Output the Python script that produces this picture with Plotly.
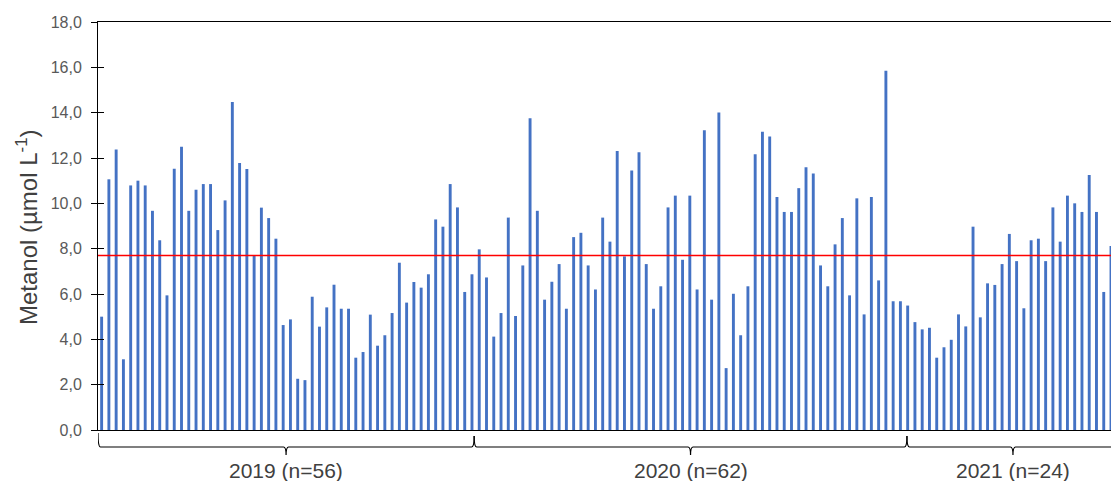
import plotly.graph_objects as go

# ---- data ----
methanol = [
    5.0, 11.06, 12.38, 3.12, 10.79, 11.0, 10.79, 9.67, 8.37, 5.94,
    11.53, 12.5, 9.67, 10.6, 10.85, 10.85, 8.82, 10.13, 14.47, 11.78,
    11.51, 7.68, 9.81, 9.35, 8.44, 4.63, 4.88, 2.26, 2.2, 5.88,
    4.56, 5.41, 6.41, 5.35, 5.35, 3.19, 3.44, 5.09, 3.72, 4.18,
    5.16, 7.38, 5.62, 6.53, 6.28, 6.87, 9.29, 8.97, 10.85, 9.82,
    6.09, 6.87, 7.97, 6.73, 4.12, 5.16, 9.37, 5.03, 7.26, 13.75,
    9.67, 5.75, 6.54, 7.32, 5.35, 8.51, 8.70, 7.26, 6.2, 9.37,
    8.31, 12.31, 7.66, 11.45, 12.25, 7.32, 5.35, 6.34, 9.82, 10.34,
    7.51, 10.34, 6.2, 13.22, 5.75, 14.01, 2.73, 6.01, 4.18, 6.34,
    12.17, 13.16, 12.95, 10.28, 9.62, 9.62, 10.67, 11.59, 11.32, 7.26,
    6.34, 8.19, 9.35, 5.94, 10.22, 5.1, 10.28, 6.6, 15.85, 5.68,
    5.68, 5.49, 4.76, 4.44, 4.51, 3.19, 3.65, 3.98, 5.1, 4.57,
    8.97, 4.97, 6.47, 6.4, 7.32, 8.65, 7.45, 5.37, 8.37, 8.44,
    7.45, 9.82, 8.31, 10.34, 10.0, 9.62, 11.25, 9.62, 6.09, 8.12,
]
samples = list(range(len(methanol)))
mean_value = 7.7
group_labels = ["2019 (n=56)", "2020 (n=62)", "2021 (n=24)"]

y_ticks = [0, 2, 4, 6, 8, 10, 12, 14, 16, 18]

# ---- layout constants (positions, not data) ----
brace_edges = [-0.5, 51.3, 110.9, 140.1]   # in bar-index units
BAR_COLOR = "#4472C4"
TEXT_COLOR = "#404040"
TICK_COLOR = "#595959"
FONT = "Liberation Sans, Arial, sans-serif"

fig = go.Figure()
fig.add_trace(go.Bar(x=samples, y=methanol, marker=dict(color=BAR_COLOR, line=dict(width=0)),
                     showlegend=False, hoverinfo="y"))
# invisible trace so the overlay axis (for crossing ticks) is drawn
fig.add_trace(go.Scatter(x=samples, y=methanol, mode="none", yaxis="y2",
                         showlegend=False, hoverinfo="skip"))

fig.add_hline(y=mean_value, line=dict(color="#FF0000", width=1.5), layer="above")

# braces below the axis
plot_h = 481 - 22 - 51
def py(px_below):
    return -px_below / plot_h

y_h = py(17)
shapes = []
for i in range(len(group_labels)):
    xa, xb = brace_edges[i], brace_edges[i + 1]
    m = (xa + xb) / 2
    ya = py(3) if i == 0 else py(6)
    yb = py(6)
    d = 0.35
    path = (f"M {xa},{ya} Q {xa},{y_h} {xa + d},{y_h} "
            f"L {m - d},{y_h} Q {m},{y_h} {m},{py(25)} "
            f"Q {m},{y_h} {m + d},{y_h} "
            f"L {xb - d},{y_h} Q {xb},{y_h} {xb},{yb}")
    shapes.append(dict(type="path", path=path, xref="x", yref="paper",
                       line=dict(color="#000000", width=1.2), layer="above"))
    fig.add_annotation(x=m, y=py(40), xref="x", yref="paper", text=group_labels[i],
                       showarrow=False, xanchor="center", yanchor="middle",
                       font=dict(family=FONT, size=21, color=TEXT_COLOR))
for s in shapes:
    fig.add_shape(**s)

fig.add_annotation(x=-71 / 1013, y=(430 - 228) / plot_h, xref="paper", yref="paper",
                   text="Metanol (µmol L<sup>-1</sup>)", textangle=-90, showarrow=False,
                   xanchor="center", yanchor="middle",
                   font=dict(family=FONT, size=24, color=TEXT_COLOR))

fig.update_layout(
    width=1111, height=481,
    margin=dict(l=98, r=0, t=22, b=51, pad=0),
    paper_bgcolor="white", plot_bgcolor="white",
    separators=", ",
    bargap=0.6,
    showlegend=False,
    xaxis=dict(range=[-0.5, 139.0], showticklabels=False, ticks="", showgrid=False,
               zeroline=False, showline=True, linecolor="#000000", linewidth=1,
               mirror=True),
    yaxis=dict(range=[0, 18], tickvals=y_ticks, tickformat=".1f", ticks="outside",
               ticklen=6, tickcolor="#000000", tickwidth=1, showline=True,
               linecolor="#000000", linewidth=1, showgrid=False, zeroline=False,
               tickfont=dict(family=FONT, size=16, color=TICK_COLOR),
               ticklabelstandoff=6),
    yaxis2=dict(range=[0, 18], tickvals=y_ticks, overlaying="y", side="left",
                ticks="inside", ticklen=6, tickcolor="#000000", tickwidth=1,
                showticklabels=False, showline=False, showgrid=False, zeroline=False),
)

fig.write_html("out.html")
